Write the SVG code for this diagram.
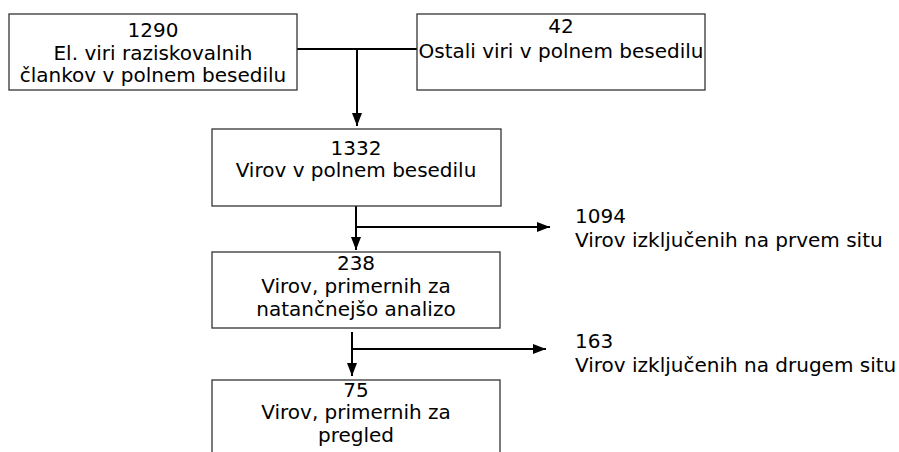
<svg xmlns="http://www.w3.org/2000/svg" width="899" height="452" viewBox="0 0 899 452">
<defs>
<style>
.box{fill:#fff;stroke:#333;stroke-width:1.3}
.t{font-family:"DejaVu Sans",Verdana,sans-serif;font-size:20px;fill:#000}
.c{text-anchor:middle}
.ln{fill:none;stroke:#000;stroke-width:2}
</style>
<marker id="ah" markerUnits="userSpaceOnUse" markerWidth="14" markerHeight="14" viewBox="0 0 14 14" refX="13" refY="7" orient="auto">
<path d="M0,2 L13,7 L0,12 Z" fill="#000"/>
</marker>
</defs>
<rect width="899" height="452" fill="#fff"/>
<g id="connectors">
<path class="ln" d="M297,49 H417"/>
<path class="ln" d="M357,49 V126" marker-end="url(#ah)"/>
<path class="ln" d="M356,206 V250" marker-end="url(#ah)"/>
<path class="ln" d="M356,227 H550" marker-end="url(#ah)"/>
<path class="ln" d="M352,332 V376" marker-end="url(#ah)"/>
<path class="ln" d="M352,349 H546" marker-end="url(#ah)"/>
</g>
<g id="n1">
<rect class="box" x="9" y="14" width="288" height="76"/>
<text class="t c" x="153" y="37">1290</text>
<text class="t c" x="153" y="60">El. viri raziskovalnih</text>
<text class="t c" x="153" y="82">člankov v polnem besedilu</text>
</g>
<g id="n2">
<rect class="box" x="417" y="14" width="288" height="76"/>
<text class="t c" x="561" y="33">42</text>
<text class="t c" x="561" y="58">Ostali viri v polnem besedilu</text>
</g>
<g id="n3">
<rect class="box" x="212" y="129" width="289" height="77"/>
<text class="t c" x="356" y="155">1332</text>
<text class="t c" x="356" y="177">Virov v polnem besedilu</text>
</g>
<g id="n4">
<rect class="box" x="212" y="252" width="288" height="76"/>
<text class="t c" x="356" y="270">238</text>
<text class="t c" x="356" y="293">Virov, primernih za</text>
<text class="t c" x="356" y="316">natančnejšo analizo</text>
</g>
<g id="n5">
<rect class="box" x="212" y="380" width="288" height="80"/>
<text class="t c" x="356" y="397">75</text>
<text class="t c" x="356" y="419">Virov, primernih za</text>
<text class="t c" x="356" y="442">pregled</text>
</g>
<g id="x1">
<text class="t" x="575" y="223">1094</text>
<text class="t" x="575" y="247">Virov izključenih na prvem situ</text>
</g>
<g id="x2">
<text class="t" x="575" y="348">163</text>
<text class="t" x="575" y="372">Virov izključenih na drugem situ</text>
</g>
</svg>
